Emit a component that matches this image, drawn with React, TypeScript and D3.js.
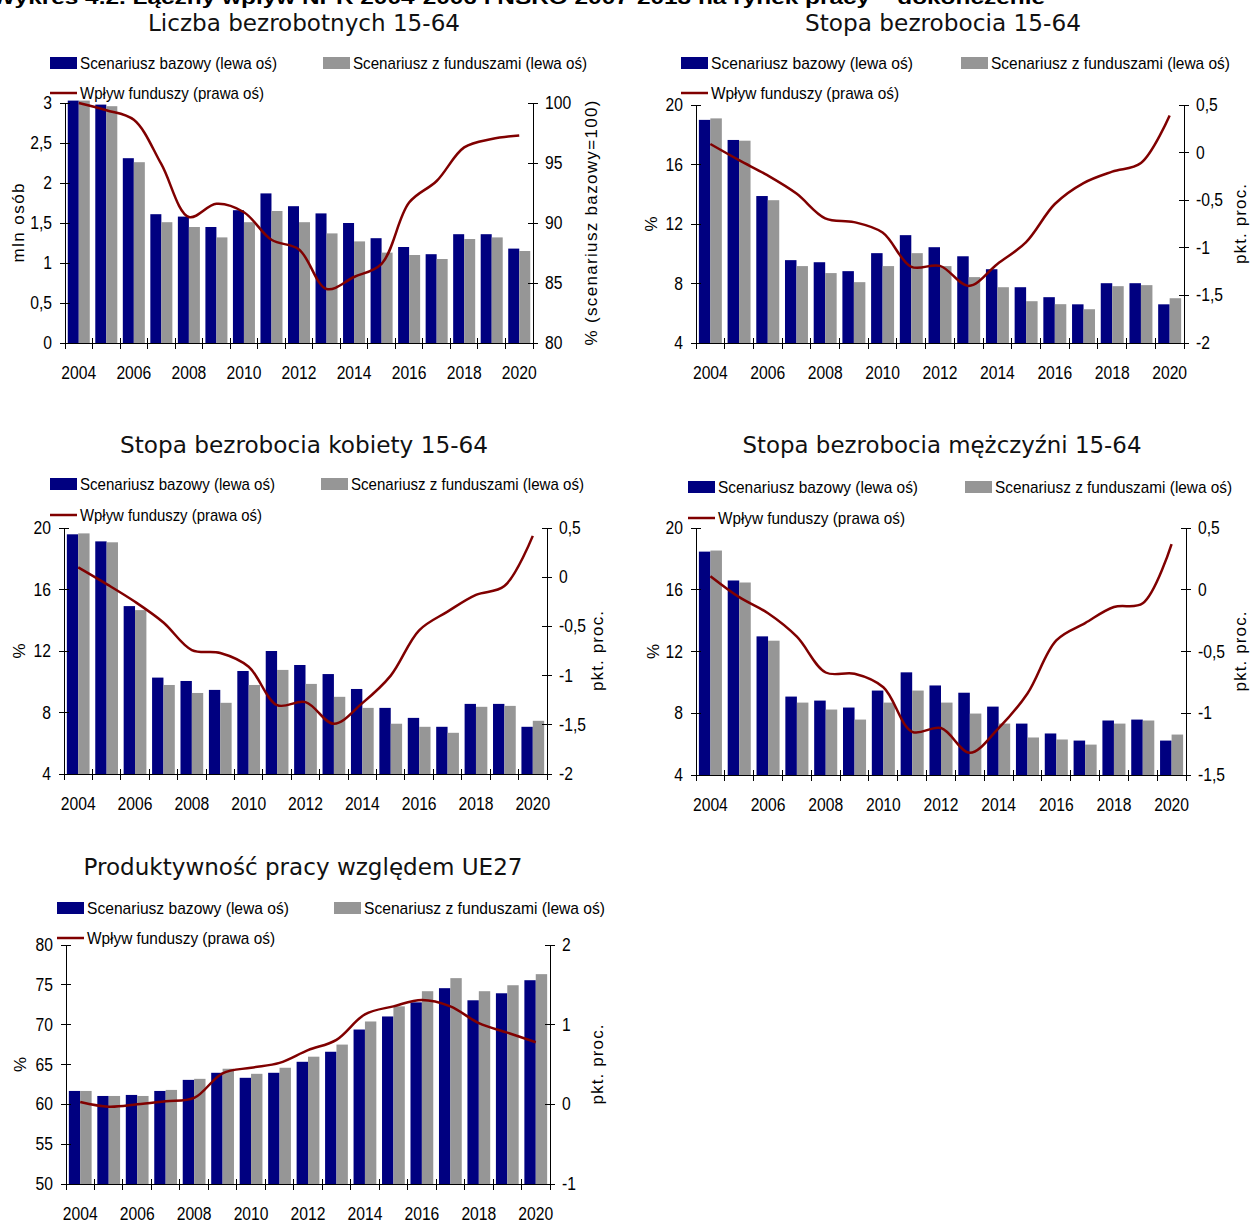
import React from "react";
import * as d3 from "d3";

// Years on the category axis and the labelled subset
const years = [2004, 2005, 2006, 2007, 2008, 2009, 2010, 2011, 2012, 2013, 2014, 2015, 2016, 2017, 2018, 2019, 2020];
const yearLabels = [2004, 2006, 2008, 2010, 2012, 2014, 2016, 2018, 2020];

// Liczba bezrobotnych 15-64 (mln osób; wpływ: % scenariusza bazowego)
const unempBase = [3.03, 2.98, 2.31, 1.61, 1.58, 1.45, 1.66, 1.87, 1.71, 1.62, 1.5, 1.31, 1.2, 1.11, 1.36, 1.36, 1.18];
const unempFunds = [3.03, 2.96, 2.26, 1.51, 1.45, 1.32, 1.51, 1.65, 1.51, 1.37, 1.27, 1.13, 1.1, 1.05, 1.3, 1.32, 1.15];
const unempImpact = [100, 99.4, 98.6, 94.9, 90.5, 91.6, 90.9, 88.6, 87.8, 84.5, 85.5, 86.6, 91.7, 93.5, 96.3, 97.0, 97.3];

// Stopa bezrobocia 15-64 (%; wpływ: pkt. proc.)
const rateBase = [19.0, 17.65, 13.88, 9.57, 9.43, 8.83, 10.04, 11.25, 10.44, 9.83, 8.96, 7.75, 7.08, 6.6, 8.02, 8.02, 6.6];
const rateFunds = [19.1, 17.6, 13.6, 9.17, 8.7, 8.09, 9.17, 10.04, 9.17, 8.43, 7.75, 6.81, 6.61, 6.27, 7.82, 7.89, 7.01];
const rateImpact = [0.09, -0.08, -0.24, -0.43, -0.69, -0.73, -0.84, -1.2, -1.19, -1.4, -1.17, -0.94, -0.54, -0.32, -0.2, -0.11, 0.39];

// Stopa bezrobocia kobiety 15-64
const womenBase = [19.59, 19.13, 14.92, 10.27, 10.05, 9.47, 10.7, 12.0, 11.09, 10.5, 9.53, 8.3, 7.65, 7.07, 8.56, 8.56, 7.07];
const womenFunds = [19.65, 19.07, 14.66, 9.79, 9.27, 8.63, 9.79, 10.77, 9.86, 9.02, 8.3, 7.27, 7.07, 6.68, 8.37, 8.43, 7.46];
const womenImpact = [0.1, -0.07, -0.25, -0.46, -0.74, -0.77, -0.91, -1.3, -1.27, -1.49, -1.28, -1.0, -0.54, -0.35, -0.18, -0.09, 0.42];

// Stopa bezrobocia mężczyźni 15-64
const menBase = [18.47, 16.6, 12.98, 9.08, 8.82, 8.37, 9.47, 10.65, 9.8, 9.33, 8.43, 7.33, 6.69, 6.23, 7.53, 7.59, 6.23];
const menFunds = [18.54, 16.47, 12.7, 8.69, 8.24, 7.59, 8.69, 9.47, 8.69, 7.98, 7.33, 6.43, 6.3, 5.97, 7.33, 7.53, 6.62];
const menImpact = [0.11, -0.06, -0.19, -0.38, -0.67, -0.68, -0.79, -1.15, -1.12, -1.32, -1.12, -0.84, -0.41, -0.27, -0.14, -0.11, 0.37];

// Produktywność pracy względem UE27 (%; wpływ: pkt. proc.)
const prodBase = [61.68, 61.05, 61.18, 61.68, 63.07, 63.96, 63.33, 63.96, 65.34, 66.6, 69.39, 71.03, 72.8, 74.58, 73.06, 73.94, 75.58];
const prodFunds = [61.68, 61.05, 61.05, 61.81, 63.2, 64.47, 63.83, 64.59, 65.98, 67.5, 70.4, 72.3, 74.2, 75.84, 74.2, 74.95, 76.34];
const prodImpact = [0.03, -0.03, 0.0, 0.04, 0.08, 0.39, 0.46, 0.52, 0.68, 0.81, 1.13, 1.23, 1.31, 1.23, 1.02, 0.9, 0.78];

// Axis ticks
const ticksUnempLeft = [0, 0.5, 1, 1.5, 2, 2.5, 3];
const ticksUnempRight = [80, 85, 90, 95, 100];
const ticksRateLeft = [4, 8, 12, 16, 20];
const ticksRateRight = [-2, -1.5, -1, -0.5, 0, 0.5];
const ticksMenRight = [-1.5, -1, -0.5, 0, 0.5];
const ticksProdLeft = [50, 55, 60, 65, 70, 75, 80];
const ticksProdRight = [-1, 0, 1, 2];

const legendLabels = ["Scenariusz bazowy (lewa oś)", "Scenariusz z funduszami (lewa oś)", "Wpływ funduszy (prawa oś)"];
const headerText = "Wykres 4.2. Łączny wpływ NPR 2004-2006 i NSRO 2007-2013 na rynek pracy – dokończenie";

const BLUE = "#000080";
const GRAY = "#969696";
const RED = "#800000";
const NARROW = "'Liberation Sans Narrow', 'Arial Narrow', 'Liberation Sans', Arial, sans-serif";
const SANS = "'Liberation Sans', Arial, sans-serif";
const TITLE_FONT = "'DejaVu Sans', 'Century Gothic', sans-serif";
const SQUEEZE = 0.87;

const fmt = (v: number) => String(v).replace(".", ",");

type PanelCfg = {
  title: string;
  titleX: number;
  titleY: number;
  titleLen: number;
  legX1: number;
  legX2: number;
  legY1: number;
  legY2: number;
  legLens: number[];
  x0: number;
  x1: number;
  yTop: number;
  yBot: number;
  base: number[];
  funds: number[];
  impact: number[];
  leftDomain: number[];
  rightDomain: number[];
  leftTicks: number[];
  rightTicks: number[];
  leftTitle: string;
  leftTitleX: number;
  leftTitleLen: number;
  rightTitle: string;
  rightTitleX: number;
  rightTitleLen: number;
};

const panels: PanelCfg[] = [
  {
    title: "Liczba bezrobotnych 15-64", titleX: 304, titleY: 31, titleLen: 312,
    legX1: 50, legX2: 323, legY1: 63, legY2: 93, legLens: [197, 234, 184],
    x0: 65, x1: 533, yTop: 103, yBot: 343,
    base: unempBase, funds: unempFunds, impact: unempImpact,
    leftDomain: [0, 3], rightDomain: [80, 100], leftTicks: ticksUnempLeft, rightTicks: ticksUnempRight,
    leftTitle: "mln osób", leftTitleX: 18, leftTitleLen: 79,
    rightTitle: "% (scenariusz bazowy=100)", rightTitleX: 591, rightTitleLen: 245,
  },
  {
    title: "Stopa bezrobocia 15-64", titleX: 943, titleY: 31, titleLen: 276,
    legX1: 681, legX2: 961, legY1: 63, legY2: 93, legLens: [202, 239, 188],
    x0: 696, x1: 1184, yTop: 105, yBot: 343,
    base: rateBase, funds: rateFunds, impact: rateImpact,
    leftDomain: [4, 20], rightDomain: [-2, 0.5], leftTicks: ticksRateLeft, rightTicks: ticksRateRight,
    leftTitle: "%", leftTitleX: 651, leftTitleLen: 0,
    rightTitle: "pkt. proc.", rightTitleX: 1240, rightTitleLen: 80,
  },
  {
    title: "Stopa bezrobocia kobiety 15-64", titleX: 304, titleY: 453, titleLen: 368,
    legX1: 50, legX2: 321, legY1: 484, legY2: 515, legLens: [195, 233, 182],
    x0: 64, x1: 547, yTop: 528, yBot: 774,
    base: womenBase, funds: womenFunds, impact: womenImpact,
    leftDomain: [4, 20], rightDomain: [-2, 0.5], leftTicks: ticksRateLeft, rightTicks: ticksRateRight,
    leftTitle: "%", leftTitleX: 19, leftTitleLen: 0,
    rightTitle: "pkt. proc.", rightTitleX: 597, rightTitleLen: 80,
  },
  {
    title: "Stopa bezrobocia mężczyźni 15-64", titleX: 942, titleY: 453, titleLen: 399,
    legX1: 688, legX2: 965, legY1: 487, legY2: 518, legLens: [200, 237, 187],
    x0: 696, x1: 1186, yTop: 528, yBot: 775,
    base: menBase, funds: menFunds, impact: menImpact,
    leftDomain: [4, 20], rightDomain: [-1.5, 0.5], leftTicks: ticksRateLeft, rightTicks: ticksMenRight,
    leftTitle: "%", leftTitleX: 653, leftTitleLen: 0,
    rightTitle: "pkt. proc.", rightTitleX: 1240, rightTitleLen: 80,
  },
  {
    title: "Produktywność pracy względem UE27", titleX: 303, titleY: 875, titleLen: 439,
    legX1: 57, legX2: 334, legY1: 908, legY2: 938, legLens: [202, 241, 188],
    x0: 66, x1: 550, yTop: 945, yBot: 1184,
    base: prodBase, funds: prodFunds, impact: prodImpact,
    leftDomain: [50, 80], rightDomain: [-1, 2], leftTicks: ticksProdLeft, rightTicks: ticksProdRight,
    leftTitle: "%", leftTitleX: 20, leftTitleLen: 0,
    rightTitle: "pkt. proc.", rightTitleX: 597, rightTitleLen: 80,
  },
];

// Horizontally condensed label, anchored at (x, y)
function Label({ x, y, anchor, children }: { x: number; y: number; anchor: string; children: React.ReactNode }) {
  return (
    <text transform={`translate(${x},${y}) scale(${SQUEEZE},1)`} textAnchor={anchor}>
      {children}
    </text>
  );
}

function Panel({ cfg }: { cfg: PanelCfg }) {
  const x = d3
    .scaleBand<number>()
    .domain(years)
    .range([cfg.x0, cfg.x1])
    .paddingInner(0.2)
    .paddingOuter(0.1);
  const bw = x.bandwidth();
  const step = x.step();
  const yL = d3.scaleLinear().domain(cfg.leftDomain).range([cfg.yBot, cfg.yTop]);
  const yR = d3.scaleLinear().domain(cfg.rightDomain).range([cfg.yBot, cfg.yTop]);
  const line = d3
    .line<number>()
    .x((_, i) => (x(years[i]) as number) + bw / 2)
    .y((d) => yR(d))
    .curve(d3.curveCatmullRom.alpha(0.5));
  const boundaries = d3.range(years.length + 1).map((i) => cfg.x0 + i * step);
  const midY = (cfg.yTop + cfg.yBot) / 2;

  return (
    <g>
      <text
        x={cfg.titleX}
        y={cfg.titleY}
        textAnchor="middle"
        fontFamily={TITLE_FONT}
        fontSize={23}
        fill="#111"
        textLength={cfg.titleLen}
        lengthAdjust="spacingAndGlyphs"
      >
        {cfg.title}
      </text>

      {/* legend */}
      <rect x={cfg.legX1} y={cfg.legY1 - 6} width={27} height={12} fill={BLUE} />
      <text x={cfg.legX1 + 30} y={cfg.legY1 + 6} fontFamily={NARROW} fontSize={17} textLength={cfg.legLens[0]} lengthAdjust="spacingAndGlyphs">
        {legendLabels[0]}
      </text>
      <rect x={cfg.legX2} y={cfg.legY1 - 6} width={27} height={12} fill={GRAY} />
      <text x={cfg.legX2 + 30} y={cfg.legY1 + 6} fontFamily={NARROW} fontSize={17} textLength={cfg.legLens[1]} lengthAdjust="spacingAndGlyphs">
        {legendLabels[1]}
      </text>
      <line x1={cfg.legX1} x2={cfg.legX1 + 27} y1={cfg.legY2} y2={cfg.legY2} stroke={RED} strokeWidth={2.5} />
      <text x={cfg.legX1 + 30} y={cfg.legY2 + 6} fontFamily={NARROW} fontSize={17} textLength={cfg.legLens[2]} lengthAdjust="spacingAndGlyphs">
        {legendLabels[2]}
      </text>

      {/* bars */}
      {years.map((yr, i) => (
        <g key={yr}>
          <rect x={x(yr)} y={yL(cfg.base[i])} width={bw / 2} height={cfg.yBot - yL(cfg.base[i])} fill={BLUE} />
          <rect x={(x(yr) as number) + bw / 2} y={yL(cfg.funds[i])} width={bw / 2} height={cfg.yBot - yL(cfg.funds[i])} fill={GRAY} />
        </g>
      ))}

      {/* axes */}
      <g stroke="#000" strokeWidth={1} shapeRendering="crispEdges">
        <line x1={cfg.x0} x2={cfg.x0} y1={cfg.yTop} y2={cfg.yBot} />
        <line x1={cfg.x1} x2={cfg.x1} y1={cfg.yTop} y2={cfg.yBot} />
        <line x1={cfg.x0} x2={cfg.x1} y1={cfg.yBot} y2={cfg.yBot} />
        {cfg.leftTicks.map((t) => (
          <line key={"l" + t} x1={cfg.x0 - 5} x2={cfg.x0 + 5} y1={yL(t)} y2={yL(t)} />
        ))}
        {cfg.rightTicks.map((t) => (
          <line key={"r" + t} x1={cfg.x1 - 5} x2={cfg.x1 + 5} y1={yR(t)} y2={yR(t)} />
        ))}
        {boundaries.map((bx, i) => (
          <line key={"b" + i} x1={bx} x2={bx} y1={cfg.yBot - 5} y2={cfg.yBot + 6} />
        ))}
      </g>

      {/* tick labels */}
      <g fontFamily={NARROW} fontSize={18} fill="#000">
        {cfg.leftTicks.map((t) => (
          <Label key={"lt" + t} x={cfg.x0 - 13} y={yL(t) + 6} anchor="end">
            {fmt(t)}
          </Label>
        ))}
        {cfg.rightTicks.map((t) => (
          <Label key={"rt" + t} x={cfg.x1 + 12} y={yR(t) + 6} anchor="start">
            {fmt(t)}
          </Label>
        ))}
        {yearLabels.map((yr) => (
          <Label key={"x" + yr} x={(x(yr) as number) + bw / 2} y={cfg.yBot + 36} anchor="middle">
            {yr}
          </Label>
        ))}
      </g>

      {/* axis titles */}
      <text
        transform={`translate(${cfg.leftTitleX},${midY}) rotate(-90)`}
        textAnchor="middle"
        dominantBaseline="central"
        fontFamily={SANS}
        fontSize={17}
        {...(cfg.leftTitleLen ? { textLength: cfg.leftTitleLen, lengthAdjust: "spacing" } : {})}
      >
        {cfg.leftTitle}
      </text>
      <text
        transform={`translate(${cfg.rightTitleX},${midY}) rotate(-90)`}
        textAnchor="middle"
        dominantBaseline="central"
        fontFamily={SANS}
        fontSize={17}
        textLength={cfg.rightTitleLen}
        lengthAdjust="spacing"
      >
        {cfg.rightTitle}
      </text>

      {/* impact line */}
      <path d={line(cfg.impact) ?? ""} fill="none" stroke={RED} strokeWidth={2.5} strokeLinejoin="round" />
    </g>
  );
}

export default function App() {
  return (
    <svg
      width={1251}
      height={1221}
      viewBox="0 0 1251 1221"
      style={{ position: "absolute", left: 0, top: 0, background: "#fff" }}
    >
      <rect x={0} y={0} width={1251} height={1221} fill="#fff" />
      <text
        x={-8}
        y={4}
        fontFamily={SANS}
        fontWeight="bold"
        fontSize={18}
        textLength={1053}
        lengthAdjust="spacingAndGlyphs"
      >
        {headerText}
      </text>
      {panels.map((p) => (
        <Panel key={p.title} cfg={p} />
      ))}
    </svg>
  );
}
